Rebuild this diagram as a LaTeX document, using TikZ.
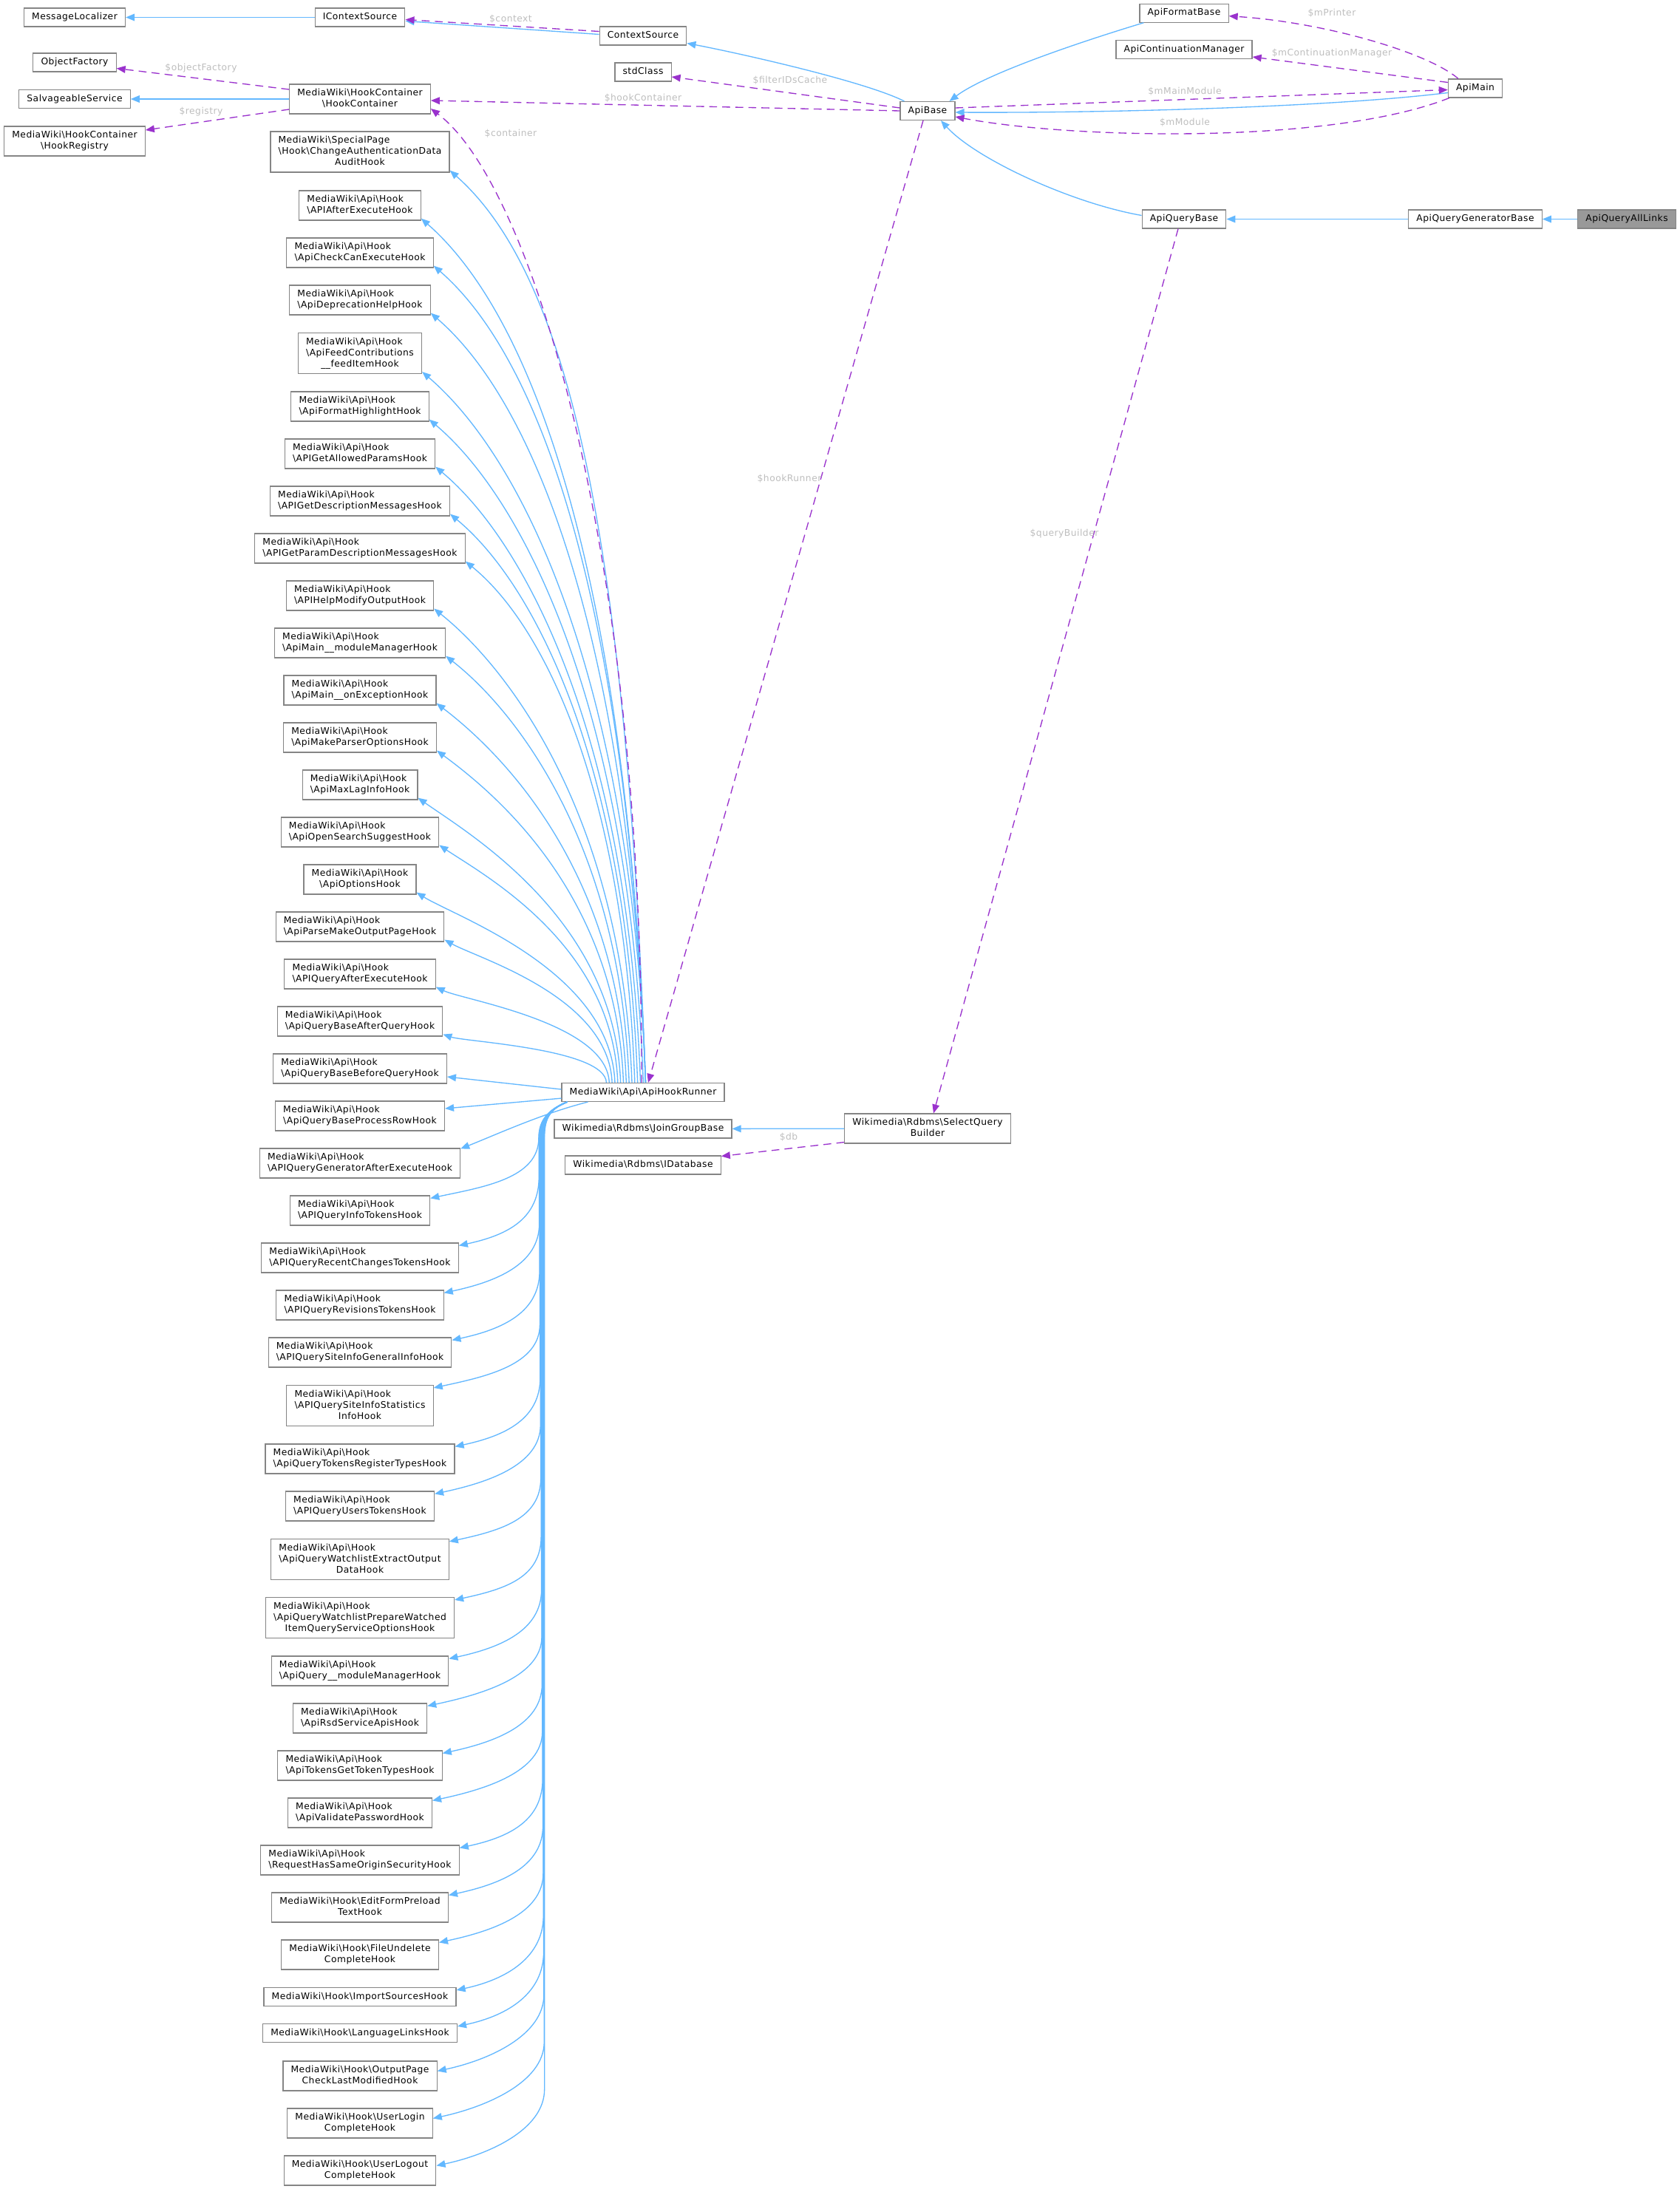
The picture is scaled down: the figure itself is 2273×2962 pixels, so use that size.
\documentclass[tikz,border=0pt]{standalone}
\usepackage{fontspec}
\setmainfont{DejaVu Sans}[LetterSpace=4]
\usetikzlibrary{arrows.meta,calc}
\definecolor{dxblue}{HTML}{63B8FF}
\definecolor{dxpurple}{HTML}{9A32CD}
\definecolor{dxlabel}{HTML}{BEBEBE}
\definecolor{dxgray}{HTML}{858585}
\definecolor{dxfocus}{HTML}{999999}
\newcommand{\dxfont}{\fontsize{10.5}{12.8}\selectfont}
\newcommand{\bsl}{\textbackslash}
\newcommand{\lft}[1]{\begin{tabular}{@{}l@{}}#1\end{tabular}}
\newcommand{\lastc}[1]{\multicolumn{1}{@{}c@{}}{#1}}
\newcommand{\apih}[1]{\lft{MediaWiki\bsl Api\bsl Hook\\\lastc{\bsl #1}}}
\newcommand{\apihh}[2]{\lft{MediaWiki\bsl Api\bsl Hook\\\bsl #1\\\lastc{#2}}}
\newcommand{\mwh}[2]{\lft{MediaWiki\bsl Hook\bsl #1\\\lastc{#2}}}

\begin{document}
\begin{tikzpicture}[x=0.3mm, y=-0.3mm,
  cls/.style={draw=dxgray, line width=0.35mm, fill=white, inner xsep=3.2mm, inner ysep=1.5mm, font=\dxfont, execute at begin node=\strut},
  cur/.style={cls, fill=dxfocus},
  inh/.style={draw=dxblue, line width=0.4mm, -{Triangle[length=3.6mm,width=2.9mm]}},
  usg/.style={draw=dxpurple, line width=0.4mm, dash pattern=on 3.2mm off 2.1mm, -{Triangle[length=3.6mm,width=2.9mm]}},
  lbl/.style={text=dxlabel, font=\dxfont, inner sep=0pt}]
  \useasboundingbox[fill=white] (0,0) rectangle (2273,2962);

  % classes
  \node[cls] (msgloc) at (101,23.5) {MessageLocalizer};
  \node[cls] (objfac) at (101,84.5) {ObjectFactory};
  \node[cls] (salv) at (101,134) {SalvageableService};
  \node[cls] (hreg) at (101,191) {\lft{MediaWiki\bsl HookContainer\\\lastc{\bsl HookRegistry}}};
  \node[cls] (ictx) at (487,23.5) {IContextSource};
  \node[cls] (hcont) at (487,134) {\lft{MediaWiki\bsl HookContainer\\\lastc{\bsl HookContainer}}};
  \node[cls] (ctx) at (870,48.5) {ContextSource};
  \node[cls] (std) at (870,97.5) {stdClass};
  \node[cls] (runner) at (870,1478) {MediaWiki\bsl Api\bsl ApiHookRunner};
  \node[cls] (jgb) at (870,1527.5) {Wikimedia\bsl Rdbms\bsl JoinGroupBase};
  \node[cls] (idb) at (870,1576.5) {Wikimedia\bsl Rdbms\bsl IDatabase};
  \node[cls] (apibase) at (1255,150) {ApiBase};
  \node[cls] (sqb) at (1255,1527) {\lft{Wikimedia\bsl Rdbms\bsl SelectQuery\\\lastc{Builder}}};
  \node[cls] (fmt) at (1602,17.7) {ApiFormatBase};
  \node[cls] (cont) at (1602,67) {ApiContinuationManager};
  \node[cls] (qbase) at (1602,296.5) {ApiQueryBase};
  \node[cls] (apimain) at (1996,119.5) {ApiMain};
  \node[cls] (qgen) at (1996,296.5) {ApiQueryGeneratorBase};
  \node[cur] (alllinks) at (2201,296.5) {ApiQueryAllLinks};

  % hook interfaces of the runner
  \foreach \i/\yy/\txt in {
    1/205.5/{\lft{MediaWiki\bsl SpecialPage\\\bsl Hook\bsl ChangeAuthenticationData\\\lastc{AuditHook}}},
    2/278/{\apih{APIAfterExecuteHook}}, 3/342/{\apih{ApiCheckCanExecuteHook}},
    4/406/{\apih{ApiDeprecationHelpHook}}, 5/478/{\apihh{ApiFeedContributions}{\_\_feedItemHook}},
    6/550/{\apih{ApiFormatHighlightHook}}, 7/614/{\apih{APIGetAllowedParamsHook}},
    8/678/{\apih{APIGetDescriptionMessagesHook}}, 9/742/{\apih{APIGetParamDescriptionMessagesHook}},
    10/806/{\apih{APIHelpModifyOutputHook}}, 11/870/{\apih{ApiMain\_\_moduleManagerHook}},
    12/934/{\apih{ApiMain\_\_onExceptionHook}}, 13/998/{\apih{ApiMakeParserOptionsHook}},
    14/1062/{\apih{ApiMaxLagInfoHook}}, 15/1126/{\apih{ApiOpenSearchSuggestHook}},
    16/1190/{\apih{ApiOptionsHook}}, 17/1254/{\apih{ApiParseMakeOutputPageHook}},
    18/1318/{\apih{APIQueryAfterExecuteHook}}, 19/1382/{\apih{ApiQueryBaseAfterQueryHook}},
    20/1446/{\apih{ApiQueryBaseBeforeQueryHook}}, 21/1510/{\apih{ApiQueryBaseProcessRowHook}},
    22/1574/{\apih{APIQueryGeneratorAfterExecuteHook}}, 23/1638/{\apih{APIQueryInfoTokensHook}},
    24/1702/{\apih{APIQueryRecentChangesTokensHook}}, 25/1766/{\apih{APIQueryRevisionsTokensHook}},
    26/1830/{\apih{APIQuerySiteInfoGeneralInfoHook}}, 27/1902/{\apihh{APIQuerySiteInfoStatistics}{InfoHook}},
    28/1974/{\apih{ApiQueryTokensRegisterTypesHook}}, 29/2038/{\apih{APIQueryUsersTokensHook}},
    30/2110/{\apihh{ApiQueryWatchlistExtractOutput}{DataHook}},
    31/2189/{\apihh{ApiQueryWatchlistPrepareWatched}{ItemQueryServiceOptionsHook}},
    32/2261/{\apih{ApiQuery\_\_moduleManagerHook}}, 33/2325/{\apih{ApiRsdServiceApisHook}},
    34/2389/{\apih{ApiTokensGetTokenTypesHook}}, 35/2453/{\apih{ApiValidatePasswordHook}},
    36/2517/{\apih{RequestHasSameOriginSecurityHook}}, 37/2581/{\mwh{EditFormPreload}{TextHook}},
    38/2645/{\mwh{FileUndelete}{CompleteHook}}, 39/2702/{MediaWiki\bsl Hook\bsl ImportSourcesHook},
    40/2751/{MediaWiki\bsl Hook\bsl LanguageLinksHook}, 41/2809/{\mwh{OutputPage}{CheckLastModifiedHook}},
    42/2873/{\mwh{UserLogin}{CompleteHook}}, 43/2937/{\mwh{UserLogout}{CompleteHook}}} {
    \node[cls] (h\i) at (487,\yy) {\txt};
    \ifnum\i<20
      \pgfmathsetmacro{\dy}{1465-\yy}
      \pgfmathsetmacro{\xs}{min(114,56+0.06*\dy)}
      \pgfmathsetmacro{\ca}{-0.02*\dy}
      \pgfmathsetmacro{\cb}{-0.55*\dy}
      \pgfmathsetmacro{\cc}{0.12*\dy+20}
      \pgfmathsetmacro{\cd}{0.12*\dy}
      \draw[inh] ($(runner.north west)+(\xs,0)$) .. controls +(\ca,\cb) and +(\cc,\cd) .. ($(h\i.south east)+(0,-3)$);
    \fi
    \ifnum\i=20
      \draw[inh] ($(runner.west)+(0,-4)$) -- ($(h\i.east)+(0,11)$);
    \fi
    \ifnum\i=21
      \draw[inh] ($(runner.south west)+(0,-5)$) -- ($(h\i.east)+(0,-10)$);
    \fi
    \ifnum\i=22
      \draw[inh] ($(runner.south west)+(36,0)$) .. controls +(-60,15) and +(50,-20) .. ($(h\i.north east)+(0,1)$);
    \fi
    \ifnum\i>22
      \pgfmathsetmacro{\xb}{728+0.006*(\yy-1491)}
      \pgfmathsetmacro{\ya}{max(1540,\yy-110)}
      \pgfmathsetmacro{\off}{\yy>2780 ? 14 : 4}
      \draw[inh] ($(runner.south west)+(8,0)$) .. controls +(-25,10) and +(0,-25) .. (\xb,1540) -- (\xb,\ya)
        .. controls +(0,55) and +(70,-15) .. ($(h\i.north east)+(0,\off)$);
    \fi
  }

  % inheritance
  \draw[inh] (ictx) -- (msgloc);
  \draw[inh] ($(ctx.west)+(0,-2)$) -- ($(ictx.east)+(0,5)$);
  \draw[inh] (hcont) -- (salv);
  \draw[inh] ($(apibase.north west)+(6,0)$) .. controls (1170,110) and (1000,72) .. ($(ctx.east)+(0,10)$);
  \draw[inh] ($(fmt.south west)+(6,0)$) .. controls (1500,45) and (1340,95) .. ($(apibase.north east)+(-8,0)$);
  \draw[inh] ($(apimain.west)+(0,6)$) .. controls (1800,145) and (1500,153) .. ($(apibase.east)+(0,2)$);
  \draw[inh] ($(qbase.west)+(0,-5)$) .. controls (1450,275) and (1320,215) .. ($(apibase.south)+(18,0)$);
  \draw[inh] (qgen) -- (qbase);
  \draw[inh] (alllinks) -- (qgen);
  \draw[inh] (sqb) -- (jgb);

  % usage
  \draw[usg] ($(ctx.west)+(0,-6)$) -- ($(ictx.east)+(0,3)$);
  \draw[usg] ($(hcont.west)+(0,-13)$) -- ($(objfac.east)+(0,8)$);
  \draw[usg] ($(hcont.west)+(0,14)$) -- ($(hreg.east)+(0,-15)$);
  \draw[usg] ($(apibase.west)+(0,-4)$) -- ($(std.east)+(0,6.5)$);
  \draw[usg] (apibase.west) -- ($(hcont.east)+(0,2)$);
  \draw[usg] ($(runner.north)+(-2,0)$) .. controls (870,750) and (720,250) .. ($(hcont.east)+(0,13)$);
  \draw[usg] ($(apibase.south)+(-6,0)$) -- ($(runner.north)+(7,0)$);
  \draw[usg] ($(apibase.east)+(0,-4)$) -- ($(apimain.west)+(0,2)$);
  \draw[usg] ($(apimain.south west)+(2,0)$) .. controls (1800,196) and (1450,188) .. ($(apibase.east)+(0,8)$);
  \draw[usg] ($(apimain.north)+(-23,0)$) .. controls (1930,70) and (1790,30) .. ($(fmt.east)+(0,4)$);
  \draw[usg] ($(apimain.west)+(0,-8)$) -- ($(cont.east)+(0,10)$);
  \draw[usg] ($(qbase.south)+(-8,0)$) -- ($(sqb.north)+(8,0)$);
  \draw[usg] ($(sqb.south west)+(0,-2)$) -- ($(idb.east)+(0,-12)$);

  % member names
  \node[lbl] (lcontext) at (691,26) {\$context};
  \node[lbl] (lobjfac) at (272,92) {\$objectFactory};
  \node[lbl] (lregistry) at (272,151) {\$registry};
  \node[lbl] (lfilter) at (1069,109) {\$filterIDsCache};
  \node[lbl] (lhookcont) at (870,133) {\$hookContainer};
  \node[lbl] (lcontainer) at (691,181) {\$container};
  \node[lbl] (lhookrun) at (1068,648) {\$hookRunner};
  \node[lbl] (lqbuilder) at (1440,722) {\$queryBuilder};
  \node[lbl] (ldb) at (1067,1539) {\$db};
  \node[lbl] (lprinter) at (1802,18) {\$mPrinter};
  \node[lbl] (lcontman) at (1802,72) {\$mContinuationManager};
  \node[lbl] (lmainmod) at (1603,124) {\$mMainModule};
  \node[lbl] (lmodule) at (1603,166) {\$mModule};
\end{tikzpicture}
\end{document}
